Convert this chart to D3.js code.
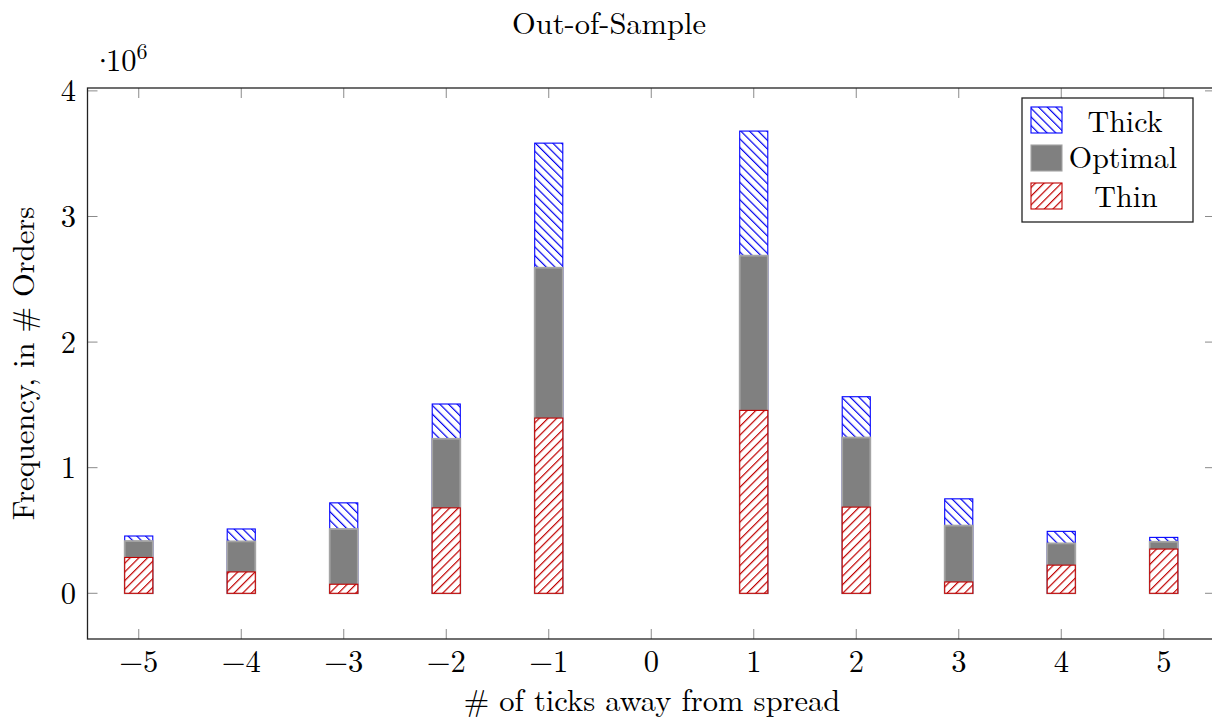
<!DOCTYPE html>
<html><head><meta charset="utf-8">
<script src="https://cdn.jsdelivr.net/npm/d3@7"></script>
<style>
html,body{margin:0;padding:0;background:#fff;}
</style></head>
<body>
<svg id="chart" width="1212" height="728"></svg>
<script>
// ---- data ----
const categories = [-5,-4,-3,-2,-1,1,2,3,4,5];
const thick   = [0.456,0.512,0.720,1.507,3.584,3.680,1.565,0.752,0.493,0.445];
const optimal = [0.416,0.413,0.512,1.230,2.592,2.688,1.240,0.539,0.397,0.410];
const thin    = [0.285,0.170,0.072,0.680,1.395,1.456,0.686,0.090,0.224,0.352];
const xTicks = [-5,-4,-3,-2,-1,0,1,2,3,4,5];
const yTicks = [0,1,2,3,4];
const seriesNames = ["Thick","Optimal","Thin"];

const FONT = "'Latin Modern Roman', 'Liberation Serif', serif";
const FS = 30.5;
const svg = d3.select("#chart");
const L=87.5, R=1215, T=88, B=639;
const x = d3.scaleLinear().domain([-5.5,5.5]).range([L,R]);
const y = d3.scaleLinear().domain([-0.364,4.023]).range([B,T]);
const barW = x(0.137)-x(-0.137);

// patterns
const defs = svg.append("defs");
function hatch(id,color,angle){
  const p = defs.append("pattern").attr("id",id).attr("patternUnits","userSpaceOnUse")
    .attr("width",6.15).attr("height",6.15).attr("patternTransform",`rotate(${angle})`);
  p.append("rect").attr("width",6.15).attr("height",6.15).attr("fill","#fff");
  p.append("line").attr("x1",0.6).attr("y1",-1).attr("x2",0.6).attr("y2",8)
    .attr("stroke",color).attr("stroke-width",1.2);
}
hatch("hblue","#0000ee",-45);
hatch("hred","#c00000",45);

const styles = [
  {fill:"url(#hblue)",stroke:"#0000ff",sw:1.1},
  {fill:"#808080",stroke:"#a4a4a4",sw:1.8},
  {fill:"url(#hred)",stroke:"#c00000",sw:1.1}
];
const seriesData=[thick,optimal,thin];

// bars (overlaid)
seriesData.forEach((vals,si)=>{
  svg.append("g").selectAll("rect").data(categories.map((c,i)=>({c,v:vals[i]}))).join("rect")
    .attr("x",d=>x(d.c)-barW/2).attr("y",d=>y(d.v))
    .attr("width",barW).attr("height",d=>y(0)-y(d.v))
    .attr("fill",styles[si].fill).attr("stroke",styles[si].stroke).attr("stroke-width",styles[si].sw);
});

// ticks (inside, all four sides)
const tickLen=10;
const tg = svg.append("g").attr("stroke","#8a8a8a").attr("stroke-width",1);
xTicks.forEach(t=>{
  tg.append("line").attr("x1",x(t)).attr("x2",x(t)).attr("y1",B).attr("y2",B-tickLen);
  tg.append("line").attr("x1",x(t)).attr("x2",x(t)).attr("y1",T).attr("y2",T+tickLen);
});
yTicks.forEach(t=>{
  tg.append("line").attr("x1",L).attr("x2",L+tickLen).attr("y1",y(t)).attr("y2",y(t));
  tg.append("line").attr("x1",R).attr("x2",R-tickLen).attr("y1",y(t)).attr("y2",y(t));
});

// frame
svg.append("rect").attr("x",L).attr("y",T).attr("width",R-L).attr("height",B-T)
  .attr("fill","none").attr("stroke","#222").attr("stroke-width",1.3);

function txt(sel){ return sel.attr("font-family",FONT).attr("fill","#000"); }

// tick labels
const fmt = t => t<0 ? "\u2212"+Math.abs(t) : String(t);
txt(svg.append("g").selectAll("text").data(xTicks).join("text"))
  .attr("x",d=>x(d)).attr("y",672).attr("text-anchor","middle")
  .attr("font-size",FS).text(fmt);
txt(svg.append("g").selectAll("text").data(yTicks).join("text"))
  .attr("x",76).attr("y",d=>y(d)+10.5).attr("text-anchor","end")
  .attr("font-size",FS).text(fmt);

// exponent
const ex = txt(svg.append("text")).attr("y",71).attr("font-size",FS);
ex.append("tspan").attr("x",91).text("\u00b7");
ex.append("tspan").attr("x",106).text("10");
ex.append("tspan").attr("font-size",22).attr("dy",-12).text("6");

// title & labels
txt(svg.append("text")).attr("x",609).attr("y",34).attr("text-anchor","middle")
  .attr("font-size",FS).text("Out-of-Sample");
txt(svg.append("text")).attr("x",652).attr("y",711).attr("text-anchor","middle")
  .attr("font-size",FS).text("# of ticks away from spread");
txt(svg.append("text")).attr("transform","translate(34,363.5) rotate(-90)").attr("text-anchor","middle")
  .attr("font-size",FS).text("Frequency, in # Orders");

// legend
const lg = svg.append("g");
lg.append("rect").attr("x",1022).attr("y",98).attr("width",171).attr("height",124)
  .attr("fill","#fff").attr("stroke","#222").attr("stroke-width",1.3);
const rowsY=[107,145,183];
const textX=[1125,1123,1126];
const baseY=[132,168,207];
seriesNames.forEach((n,i)=>{
  lg.append("rect").attr("x",1031).attr("y",rowsY[i]).attr("width",31).attr("height",26)
    .attr("fill",styles[i].fill).attr("stroke",styles[i].stroke).attr("stroke-width",1.1);
  txt(lg.append("text")).attr("x",textX[i]).attr("y",baseY[i]).attr("text-anchor","middle")
    .attr("font-size",30).text(n);
});
</script>
</body></html>
